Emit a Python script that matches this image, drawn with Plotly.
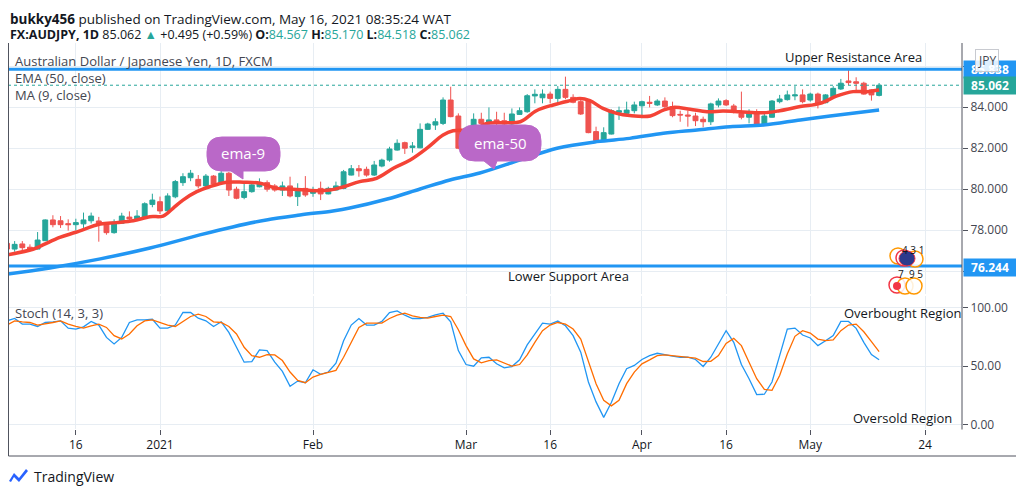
import plotly.graph_objects as go
from plotly.subplots import make_subplots

# daily bars, 3 Dec 2020 .. 14 May 2021 (index 0..114)
opens = [77.35, 77.07, 77.32, 77.16, 77.07, 77.48, 78.49, 78.45, 78.31, 78.26,
         78.30, 78.45, 78.44, 78.29, 77.87, 78.33, 78.63, 78.54, 78.63, 79.25,
         79.38, 78.94, 79.62, 80.31, 80.55, 80.47, 80.15, 80.63, 80.28, 80.77,
         79.99, 79.59, 79.87, 80.11, 80.31, 80.15, 79.95, 80.15, 79.63, 80.03,
         79.79, 80.03, 79.76, 79.95, 80.03, 80.68, 80.99, 80.96, 80.68, 81.12,
         81.41, 81.90, 82.26, 82.02, 82.01, 82.91, 83.12, 83.20, 84.34, 83.56,
         81.99, 82.92, 83.40, 83.20, 83.37, 83.33, 83.17, 83.64, 83.77, 84.54,
         84.45, 84.63, 84.42, 84.86, 84.47, 84.26, 84.31, 82.80, 82.36, 82.68,
         83.74, 83.69, 83.82, 84.06, 84.23, 84.10, 84.29, 84.02, 83.64, 83.61,
         83.56, 83.40, 83.28, 84.10, 84.31, 84.05, 83.69, 83.50, 83.69, 83.17,
         83.50, 84.26, 84.36, 84.54, 84.59, 84.34, 84.63, 84.21, 84.50, 84.88,
         85.27, 85.23, 85.16, 84.83, 84.567]
highs = [77.45, 77.46, 77.46, 77.30, 77.90, 78.52, 78.72, 78.68, 78.52, 78.55,
         78.85, 78.85, 78.64, 78.36, 78.52, 78.84, 78.91, 78.97, 79.35, 79.77,
         79.63, 79.79, 80.44, 80.77, 80.93, 80.68, 80.73, 80.68, 80.90, 80.83,
         80.11, 80.36, 80.36, 80.52, 80.42, 80.24, 80.36, 80.60, 80.28, 80.63,
         80.11, 80.36, 80.11, 80.36, 80.93, 81.17, 81.17, 81.09, 81.37, 81.48,
         82.06, 82.42, 82.31, 82.29, 83.20, 83.23, 83.45, 84.47, 84.99, 83.69,
         83.04, 83.69, 83.72, 83.98, 83.77, 83.72, 83.93, 83.98, 84.63, 84.86,
         84.86, 84.75, 85.02, 85.48, 84.62, 84.38, 84.38, 83.04, 83.01, 83.89,
         84.02, 84.26, 84.26, 84.31, 84.54, 84.38, 84.47, 84.26, 83.82, 83.82,
         83.72, 83.53, 84.21, 84.42, 84.38, 84.15, 84.75, 83.89, 83.89, 83.69,
         84.34, 84.59, 84.80, 85.02, 84.86, 84.70, 84.70, 84.63, 85.02, 85.37,
         85.80, 85.45, 85.23, 84.86, 85.170]
lows = [77.00, 76.94, 76.98, 77.02, 77.05, 77.46, 78.13, 78.10, 77.97, 77.97,
        78.10, 78.32, 77.43, 77.77, 77.82, 78.33, 78.44, 78.54, 78.60, 79.11,
        78.78, 78.84, 79.55, 80.15, 80.38, 80.03, 80.11, 80.15, 80.24, 79.66,
        79.50, 79.50, 79.82, 80.08, 79.87, 79.87, 79.66, 79.59, 79.17, 79.62,
        79.62, 79.46, 79.74, 79.93, 79.99, 80.66, 80.60, 80.60, 80.63, 81.06,
        81.33, 81.87, 81.71, 81.77, 81.99, 82.88, 82.88, 83.12, 83.50, 81.94,
        81.97, 82.63, 83.12, 83.07, 82.80, 82.91, 83.07, 83.61, 83.72, 84.18,
        84.18, 84.18, 84.18, 84.38, 84.18, 83.61, 82.72, 82.26, 82.31, 82.66,
        83.37, 83.66, 83.69, 83.45, 83.98, 84.05, 83.93, 83.50, 83.28, 83.04,
        83.07, 83.01, 83.12, 83.98, 84.05, 83.69, 83.40, 83.20, 83.12, 83.12,
        83.48, 84.18, 84.31, 84.33, 84.18, 84.26, 83.93, 84.18, 84.47, 84.83,
        85.07, 84.80, 84.60, 84.31, 84.518]
closes = [77.07, 77.30, 77.14, 77.07, 77.51, 78.49, 78.26, 78.26, 78.26, 78.36,
          78.49, 78.68, 78.29, 77.87, 78.39, 78.68, 78.54, 78.68, 79.28, 79.46,
          78.93, 79.66, 80.36, 80.60, 80.77, 80.15, 80.63, 80.24, 80.77, 79.95,
          79.55, 79.87, 80.20, 80.31, 79.99, 79.95, 80.15, 79.66, 79.99, 79.71,
          79.92, 79.76, 80.03, 80.15, 80.84, 80.99, 80.89, 80.68, 81.17, 81.41,
          81.95, 82.23, 81.99, 82.10, 82.91, 83.17, 83.28, 84.34, 83.53, 81.99,
          82.96, 83.40, 83.20, 83.37, 83.20, 83.17, 83.66, 83.82, 84.55, 84.62,
          84.63, 84.42, 84.86, 84.47, 84.23, 83.66, 82.75, 82.36, 82.75, 83.82,
          83.82, 83.85, 84.10, 84.26, 84.18, 84.29, 84.02, 83.58, 83.61, 83.56,
          83.33, 83.28, 84.15, 84.29, 84.10, 83.74, 83.50, 83.77, 83.17, 83.56,
          84.29, 84.39, 84.59, 84.59, 84.26, 84.63, 84.13, 84.59, 84.91, 85.16,
          85.19, 85.16, 84.63, 84.59, 85.062]
bar_idx = list(range(len(opens)))

# MA (9) and EMA (50) as traced on the chart (bar index, price)
ma9_x = [0, 3.4, 4.7, 6.9, 9.0, 12.2, 14.3, 16.5, 18.7, 20.4, 21.7, 23.0, 24.8,
         26.5, 28.7, 30.9, 33.1, 35.3, 37.4, 40.5, 42.2, 44.0, 46.1, 48.3, 50.5,
         52.7, 54.9, 57.0, 58.3, 60.1, 61.8, 62.7, 64.9, 67.1, 69.2, 71.4, 73.6,
         74.9, 76.2, 77.9, 79.7, 81.4, 84.1, 85.8, 87.1, 89.3, 91.5, 93.6, 95.8,
         98.9, 101.0, 103.7, 106.3, 108.5, 110.6, 112.4, 114.0]
ma9_y = [76.78, 77.06, 77.27, 77.64, 77.89, 78.29, 78.36, 78.45, 78.65, 78.68,
         79.06, 79.46, 79.87, 80.11, 80.33, 80.33, 80.28, 80.03, 79.99, 79.92,
         79.95, 80.11, 80.36, 80.52, 81.01, 81.41, 81.99, 82.63, 82.84, 82.88,
         83.04, 83.20, 83.23, 83.28, 83.82, 84.10, 84.31, 84.42, 84.31, 83.93,
         83.69, 83.58, 83.56, 83.85, 83.98, 83.89, 83.77, 83.80, 83.77, 83.72,
         83.82, 84.02, 84.18, 84.54, 84.75, 84.75, 84.83]
ema50_x = [0, 5.6, 12.2, 18.7, 25.2, 29.5, 33.9, 38.3, 42.6, 44.8, 49.7, 54.0,
           57.9, 61.8, 67.1, 71.9, 77.1, 81.4, 85.8, 90.2, 94.5, 98.9, 103.7,
           107.6, 114.0]
ema50_y = [75.85, 76.15, 76.59, 77.12, 77.76, 78.15, 78.49, 78.73, 78.93, 79.07,
           79.51, 80.00, 80.44, 80.78, 81.42, 81.99, 82.31, 82.47, 82.72, 82.88,
           83.04, 83.12, 83.37, 83.56, 83.85]

# Stoch (14, 3, 3)
stoch_k = [88.6, 90.6, 85.8, 85.8, 83.8, 87.2, 87.8, 88.6, 82.4, 81.6,
           83.5, 88.1, 85.0, 74.5, 68.9, 74.5, 87.2, 89.4, 89.4, 90.0,
           82.4, 82.4, 85.0, 95.7, 95.7, 90.9, 88.6, 83.8, 87.8, 78.8,
           66.1, 53.4, 53.9, 63.8, 63.3, 53.4, 45.5, 32.8, 37.3, 35.9,
           46.9, 43.0, 45.0, 52.6, 71.7, 85.0, 90.6, 85.0, 85.0, 88.1,
           95.7, 97.1, 93.4, 90.6, 90.6, 91.5, 93.7, 95.1, 87.8, 63.3,
           51.4, 50.0, 57.1, 57.6, 52.0, 48.6, 49.7, 55.4, 68.1, 77.9,
           86.7, 85.8, 88.4, 84.4, 76.0, 61.9, 36.5, 19.6, 6.4, 19.0,
           35.1, 47.8, 50.6, 55.7, 59.0, 61.0, 59.6, 58.5, 57.6, 57.6,
           55.7, 49.7, 57.6, 69.4, 80.2, 70.3, 51.4, 39.3, 25.8, 26.1,
           36.5, 59.0, 81.6, 82.4, 76.5, 74.0, 67.5, 71.7, 76.0, 88.1,
           88.1, 82.2, 70.3, 59.9, 55.4]
stoch_d = [85.0, 88.6, 87.8, 87.2, 85.0, 85.8, 87.2, 88.6, 85.8, 83.8,
           82.4, 84.4, 85.8, 83.0, 76.0, 73.2, 77.4, 84.4, 88.6, 89.4,
           87.2, 85.0, 83.8, 88.1, 92.3, 94.3, 92.3, 87.8, 87.2, 83.8,
           77.4, 66.1, 59.0, 57.6, 59.9, 59.6, 54.8, 45.0, 37.9, 35.9,
           40.7, 43.0, 45.0, 46.4, 57.6, 70.3, 83.0, 86.7, 86.7, 86.7,
           90.6, 93.4, 95.1, 92.8, 91.5, 90.9, 92.3, 93.4, 92.3, 81.0,
           67.5, 56.2, 52.8, 54.8, 55.4, 52.6, 50.0, 51.4, 59.6, 70.3,
           80.2, 85.0, 87.2, 85.8, 81.6, 73.1, 53.4, 35.1, 21.0, 16.2,
           21.0, 35.1, 45.0, 52.0, 55.4, 59.0, 59.6, 59.0, 58.2, 57.6,
           56.8, 54.0, 54.2, 59.0, 69.4, 73.7, 67.5, 53.4, 39.3, 30.3,
           29.4, 42.1, 60.4, 75.4, 80.2, 78.2, 73.1, 71.7, 72.3, 80.2,
           85.0, 85.8, 79.3, 70.9, 62.4]

tick_idx = [9, 20, 40, 60, 71, 83, 94, 105, 120]
tick_text = ["16", "2021", "Feb", "Mar", "16", "Apr", "16", "May", "24"]
price_ticks = [76, 78, 80, 82, 84, 86]
price_text = ["76.000", "78.000", "80.000", "82.000", "84.000", ""]  # 86 is hidden behind the badges
stoch_ticks = [0, 50, 100]
resistance = 85.838
support = 76.244
last_close = 85.062

GREEN = "#26a69a"
RED = "#ef5350"
BLUE = "#2196f3"
MA_RED = "#f44336"
PURPLE = "#ba68c8"
TXT = "#131722"
AXT = "#434651"
GRID = "#e7edf3"
FRAME = "#50535e"
FONT = "Open Sans"

# the page body has an 8px margin, so the figure sits at (8, 8) in the window
OFF = 8
W, H = 1024 - OFF, 494 - OFF
ML, MR, MT, MB = 0, 62, 35, 65
PW, PH = W - ML - MR, H - MT - MB


def px(x):
    # window pixel -> paper x
    return (x - OFF - ML) / PW


def py(y):
    # window pixel -> paper y
    return (H - MB - (y - OFF)) / PH


fig = make_subplots(rows=2, cols=1, shared_xaxes=True)

fig.add_trace(go.Candlestick(
    x=bar_idx, open=opens, high=highs, low=lows, close=closes,
    increasing=dict(line=dict(color=GREEN, width=1), fillcolor=GREEN),
    decreasing=dict(line=dict(color=RED, width=1), fillcolor=RED),
    whiskerwidth=0, showlegend=False, hoverinfo="skip"), row=1, col=1)
fig.add_trace(go.Scatter(x=ema50_x, y=ema50_y, mode="lines", line=dict(color=BLUE, width=3.5, shape="spline"),
                         showlegend=False, hoverinfo="skip"), row=1, col=1)
fig.add_trace(go.Scatter(x=ma9_x, y=ma9_y, mode="lines", line=dict(color=MA_RED, width=3.5, shape="spline"),
                         showlegend=False, hoverinfo="skip"), row=1, col=1)

fig.add_hline(y=resistance, line=dict(color=BLUE, width=3), row=1, col=1)
fig.add_hline(y=support, line=dict(color=BLUE, width=3), row=1, col=1)
fig.add_hline(y=last_close, line=dict(color=GREEN, width=1, dash="dot"), row=1, col=1)

fig.add_hrect(y0=20, y1=80, fillcolor="#ead0fb", line_width=0, layer="below", row=2, col=1)
for lvl in (20, 80):
    fig.add_hline(y=lvl, line=dict(color="#6a6d78", width=1, dash="dash"), row=2, col=1)

fig.add_trace(go.Scatter(x=bar_idx, y=stoch_k, mode="lines", line=dict(color=BLUE, width=1.3),
                         showlegend=False, hoverinfo="skip"), row=2, col=1)
fig.add_trace(go.Scatter(x=bar_idx, y=stoch_d, mode="lines", line=dict(color="#ff6d00", width=1.3),
                         showlegend=False, hoverinfo="skip"), row=2, col=1)

xr = [(8 - 7) / 7.65, (962 - 7) / 7.65]
fig.update_xaxes(range=xr, tickvals=tick_idx, ticktext=tick_text, showgrid=True, gridcolor=GRID,
                 zeroline=False, rangeslider_visible=False, tickfont=dict(family=FONT, size=12, color=TXT))
fig.update_xaxes(showticklabels=False, row=1, col=1)
fig.update_xaxes(ticks="outside", ticklen=5, tickcolor=FRAME, row=2, col=1)
fig.update_yaxes(side="right", showgrid=True, gridcolor=GRID, zeroline=False, ticks="outside",
                 ticklen=5, tickcolor=FRAME, tickfont=dict(family=FONT, size=12, color=AXT))
fig.update_yaxes(range=[84 - 187 / 20.5, 84 + 64 / 20.5], tickvals=price_ticks,
                 ticktext=price_text, domain=[py(294), 1], row=1, col=1)
fig.update_yaxes(range=[50 - 63.3 / 1.183, 50 + 70.7 / 1.183], tickvals=stoch_ticks,
                 ticktext=[f"{v:.2f}" for v in stoch_ticks], domain=[0, py(296)], row=2, col=1)

shapes = []


def hline_px(y, x0, x1, color=FRAME, w=1):
    shapes.append(dict(type="line", xref="paper", yref="paper", x0=px(x0), x1=px(x1),
                       y0=py(y), y1=py(y), line=dict(color=color, width=w)))


def vline_px(x, y0, y1, color=FRAME, w=1):
    shapes.append(dict(type="line", xref="paper", yref="paper", x0=px(x), x1=px(x),
                       y0=py(y0), y1=py(y1), line=dict(color=color, width=w)))


# chart frame
hline_px(43, 8.5, 1017)
hline_px(295, 8.5, 1017)
hline_px(429.5, 8.5, 1017)
hline_px(456, 8.5, 1017)
vline_px(8.5, 43, 456)
vline_px(962, 43, 429.5)
vline_px(1017, 43, 456)


def bubble(x0, y0, x1, y1, r, tail):
    pts = [
        f"M{px(x0 + r)},{py(y0)}", f"L{px(x1 - r)},{py(y0)}",
        f"Q{px(x1)},{py(y0)} {px(x1)},{py(y0 + r)}", f"L{px(x1)},{py(y1 - r)}",
        f"Q{px(x1)},{py(y1)} {px(x1 - r)},{py(y1)}",
        f"L{px(tail[1])},{py(y1)}", f"L{px(tail[2][0])},{py(tail[2][1])}", f"L{px(tail[0])},{py(y1)}",
        f"L{px(x0 + r)},{py(y1)}", f"Q{px(x0)},{py(y1)} {px(x0)},{py(y1 - r)}",
        f"L{px(x0)},{py(y0 + r)}", f"Q{px(x0)},{py(y0)} {px(x0 + r)},{py(y0)}", "Z",
    ]
    shapes.append(dict(type="path", xref="paper", yref="paper", path=" ".join(pts),
                       fillcolor=PURPLE, line=dict(color=PURPLE, width=1)))


bubble(207, 137, 280, 171, 15, (231, 243, (243, 179)))
bubble(459, 125, 541, 161, 16, (484, 497, (494, 169)))

# event flags near the right edge
for cx, cy, col in [(898, 256, "#ff9800"), (904, 258, "#f23645"), (915, 259, "#ff9800"),
                    (897, 285, "#f23645"), (905, 286, "#ff9800"), (914, 286, "#ff9800")]:
    shapes.append(dict(type="circle", xref="paper", yref="paper", x0=px(cx - 8), x1=px(cx + 8),
                       y0=py(cy + 8), y1=py(cy - 8), line=dict(color=col, width=1.5),
                       fillcolor="rgba(255,255,255,0.85)"))
shapes.append(dict(type="circle", xref="paper", yref="paper", x0=px(899), x1=px(915),
                   y0=py(266), y1=py(251), fillcolor="#2d3a8c", line=dict(color="#f23645", width=1)))
shapes.append(dict(type="circle", xref="paper", yref="paper", x0=px(893), x1=px(901),
                   y0=py(290), y1=py(282), fillcolor="#f23645", line=dict(width=0)))
shapes.append(dict(type="path", xref="paper", yref="paper",
                   path=f"M{px(9)},{py(481)} L{px(14)},{py(473)} L{px(19)},{py(478)} L{px(26)},{py(469)} "
                        f"L{px(28)},{py(471)} L{px(19)},{py(482)} L{px(14)},{py(477)} L{px(11)},{py(482)} Z",
                   fillcolor="#2962ff", line=dict(width=0)))

annotations = []


def label(x, y, text, size=13, color=TXT, anchor="left", yanchor="middle", **kw):
    annotations.append(dict(x=px(x), y=py(y), xref="paper", yref="paper", text=text, showarrow=False,
                            xanchor=anchor, yanchor=yanchor, font=dict(family=FONT, size=size, color=color), **kw))


label(8.5, 9, "<b>bukky456</b> published on TradingView.com, May 16, 2021 08:35:24 WAT", size=13.5,
      yanchor="top", borderpad=0)
label(8.5, 35, f"<b>FX:AUDJPY, 1D</b> 85.062 <span style='color:{GREEN}'>▲</span> +0.495 (+0.59%) "
               f"<b>O:</b><span style='color:{GREEN}'>84.567</span> <b>H:</b><span style='color:{GREEN}'>85.170</span> "
               f"<b>L:</b><span style='color:{GREEN}'>84.518</span> <b>C:</b><span style='color:{GREEN}'>85.062</span>",
      size=12.5, borderpad=0)
label(13, 61, "Australian Dollar / Japanese Yen, 1D, FXCM", size=13, color=AXT)
label(13, 78, "EMA (50, close)", size=13, color=AXT)
label(13, 95, "MA (9, close)", size=13, color=AXT)
label(13, 313, "Stoch (14, 3, 3)", size=13, color=AXT)
label(853, 57, "Upper Resistance Area", anchor="center")
label(568, 276, "Lower Support Area", anchor="center")
label(902, 313, "Overbought Region", anchor="center")
label(902, 418, "Oversold Region", anchor="center")
label(243, 153, "ema-9", size=15, color="white", anchor="center")
label(500, 143, "ema-50", size=15, color="white", anchor="center")
label(913, 250, "4 3 1", size=10, color=TXT, anchor="center")
label(910, 274, "7  9 5", size=10, color=TXT, anchor="center")
label(32, 476, "TradingView", size=14, color=TXT)

# price scale badges
for yv, text, bg in [(py(69), "85.838", BLUE), (py(86), "85.062", GREEN), (py(267), "76.244", BLUE)]:
    annotations.append(dict(x=px(990), y=yv, xref="paper", yref="paper", text=f"<b>{text}</b>",
                            showarrow=False, xanchor="center", yanchor="middle", bgcolor=bg, width=50, height=15,
                            font=dict(family=FONT, size=12, color="white")))
annotations.append(dict(x=px(987), y=py(60), xref="paper", yref="paper", text="JPY", showarrow=False,
                        xanchor="center", yanchor="middle", bgcolor="rgba(255,255,255,0.85)",
                        bordercolor="#c8cad0", borderwidth=1, borderpad=2,
                        font=dict(family=FONT, size=12, color=AXT)))

fig.update_layout(
    width=W, height=H, margin=dict(l=ML, r=MR, t=MT, b=MB),
    paper_bgcolor="white", plot_bgcolor="white", showlegend=False,
    boxgap=0.25, boxgroupgap=0.15,
    shapes=shapes, annotations=annotations,
    font=dict(family=FONT, color=TXT),
)

fig.write_html("out.html")
